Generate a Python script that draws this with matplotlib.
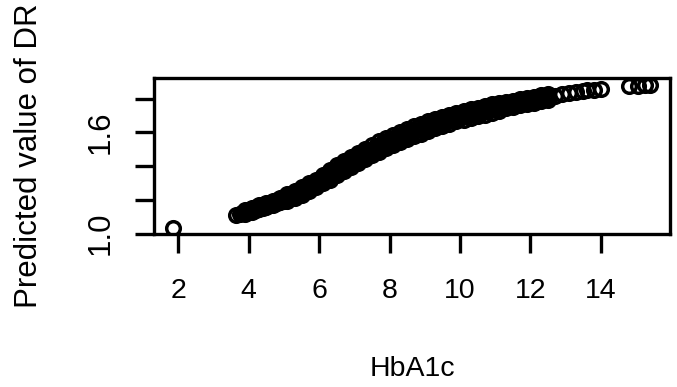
import matplotlib
matplotlib.use("Agg")
import matplotlib.pyplot as plt

plt.rcParams['font.family'] = ['Liberation Sans', 'DejaVu Sans']

# dense part of the curve, HbA1c grid with three predicted values per level
hba1c = [3.9, 4.1, 4.3, 4.5, 4.7, 4.9, 5.1, 5.3, 5.5, 5.7, 5.9, 6.1, 6.3, 6.5,
         6.7, 6.9, 7.1, 7.3, 7.5, 7.7, 7.9, 8.1, 8.3, 8.5, 8.7, 8.9, 9.1, 9.3,
         9.5, 9.7, 9.9, 10.1, 10.3, 10.5, 10.7, 10.9, 11.1, 11.3, 11.5, 11.7,
         11.9, 12.1, 12.3, 12.5]
pred_mid = [1.128, 1.142, 1.155, 1.168, 1.183, 1.197, 1.214, 1.232, 1.252,
            1.275, 1.298, 1.322, 1.348, 1.374, 1.400, 1.424, 1.448, 1.472,
            1.495, 1.516, 1.536, 1.555, 1.573, 1.590, 1.606, 1.622, 1.637,
            1.651, 1.665, 1.677, 1.689, 1.700, 1.710, 1.720, 1.730, 1.740,
            1.750, 1.760, 1.770, 1.778, 1.786, 1.794, 1.802, 1.810]
pred_low = [1.116, 1.130, 1.143, 1.156, 1.171, 1.185, 1.192, 1.210, 1.230,
            1.253, 1.276, 1.300, 1.318, 1.344, 1.370, 1.394, 1.418, 1.442,
            1.465, 1.486, 1.506, 1.525, 1.543, 1.560, 1.576, 1.592, 1.607,
            1.626, 1.640, 1.652, 1.664, 1.675, 1.685, 1.695, 1.705, 1.715,
            1.725, 1.742, 1.752, 1.760, 1.768, 1.776, 1.784, 1.792]
pred_high = [1.140, 1.154, 1.167, 1.180, 1.195, 1.209, 1.236, 1.254, 1.274,
             1.297, 1.320, 1.344, 1.378, 1.404, 1.430, 1.454, 1.478, 1.502,
             1.525, 1.546, 1.566, 1.585, 1.603, 1.620, 1.636, 1.652, 1.667,
             1.676, 1.690, 1.702, 1.714, 1.725, 1.735, 1.745, 1.755, 1.765,
             1.775, 1.778, 1.788, 1.796, 1.804, 1.812, 1.820, 1.828]

# in-between HbA1c levels
hba1c_b = [4.0, 4.2, 4.4, 4.6, 4.8, 5.0, 5.2, 5.4, 5.6, 5.8, 6.0, 6.2, 6.4,
           6.6, 6.8, 7.0, 7.2, 7.4, 7.6, 7.8, 8.0, 8.2, 8.4, 8.6, 8.8, 9.0,
           9.2, 9.4, 9.6, 9.8, 10.0, 10.2, 10.4, 10.6, 10.8, 11.0, 11.2, 11.4,
           11.6, 11.8, 12.0, 12.2, 12.4]
pred_b_low = [1.128, 1.141, 1.154, 1.167, 1.180, 1.190, 1.208, 1.226, 1.247,
              1.270, 1.294, 1.318, 1.340, 1.366, 1.392, 1.416, 1.440, 1.464,
              1.487, 1.508, 1.528, 1.547, 1.565, 1.582, 1.598, 1.614, 1.630,
              1.646, 1.660, 1.672, 1.684, 1.695, 1.705, 1.715, 1.725, 1.735,
              1.745, 1.756, 1.764, 1.772, 1.780, 1.788, 1.796]
pred_b_high = [1.142, 1.155, 1.168, 1.181, 1.196, 1.216, 1.232, 1.250, 1.271,
               1.294, 1.318, 1.342, 1.372, 1.398, 1.424, 1.448, 1.472, 1.496,
               1.519, 1.540, 1.560, 1.579, 1.597, 1.614, 1.630, 1.646, 1.660,
               1.670, 1.684, 1.696, 1.708, 1.719, 1.729, 1.739, 1.749, 1.759,
               1.769, 1.776, 1.784, 1.792, 1.800, 1.808, 1.816]

# sparse observations at both ends
hba1c_tail = [1.85, 3.65, 3.75, 3.8, 12.7, 12.9, 13.1, 13.3, 13.5, 13.6,
              13.8, 14.0, 14.8, 15.05, 15.25, 15.4]
pred_tail = [1.035, 1.112, 1.115, 1.12, 1.815, 1.825, 1.832, 1.840, 1.845,
             1.848, 1.852, 1.855, 1.872, 1.875, 1.878, 1.880]

fig = plt.figure(figsize=(6.77, 3.87), dpi=100)
ax = fig.add_axes([0.2275, 0.3966, 0.762, 0.402])

style = dict(marker='o', linestyle='none', markersize=9.8, markerfacecolor='none',
             markeredgecolor='black', markeredgewidth=2.5)
for xs, ys in [(hba1c, pred_mid), (hba1c, pred_low), (hba1c, pred_high),
               (hba1c_b, pred_b_low), (hba1c_b, pred_b_high),
               (hba1c_tail, pred_tail)]:
    ax.plot(xs, ys, **style)

ax.set_xlim(1.31, 15.96)
ax.set_ylim(1.0, 1.922)

ax.set_xticks([2, 4, 6, 8, 10, 12, 14])
ax.set_yticks([1.0, 1.2, 1.4, 1.6, 1.8])
ax.set_yticklabels(['1.0', '', '', '1.6', ''])
ax.tick_params(axis='both', length=13.7, width=2.4, color='black')
ax.tick_params(axis='x', pad=18, labelsize=20.5)
ax.tick_params(axis='y', pad=14, labelsize=22.5)
plt.setp(ax.get_yticklabels(), rotation=90, va='center')

for sp in ax.spines.values():
    sp.set_linewidth(2.4)

ax.set_xlabel('HbA1c', fontsize=20.5, labelpad=38)
ax.set_ylabel('Predicted value of DR', fontsize=22.5, labelpad=30)

fig.savefig('out.png', dpi=100)
